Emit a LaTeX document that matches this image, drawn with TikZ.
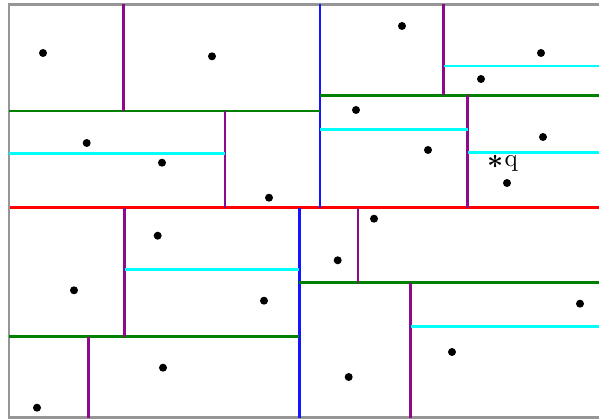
\documentclass[tikz,border=0pt]{standalone}
\usepackage{bm}
\begin{document}
\begin{tikzpicture}[x=1pt,y=-1pt,
  seg/.style={line width=2.6pt},
  splitred/.style={seg,draw={rgb,255:red,255;green,0;blue,0}},
  splitblue/.style={seg,draw={rgb,255:red,20;green,20;blue,255}},
  splitgreen/.style={seg,draw={rgb,255:red,0;green,128;blue,0}},
  splitpurple/.style={seg,draw={rgb,255:red,140;green,10;blue,140}},
  splitcyan/.style={seg,draw={rgb,255:red,0;green,255;blue,255}},
  frame/.style={line width=2.6pt,draw={rgb,255:red,150;green,150;blue,150}},
  pt/.style={circle,fill=black,inner sep=0pt,minimum size=8pt}]
\useasboundingbox (0,0) rectangle (599,419);
% frame
\draw[frame] (610,4.3) -- (9,4.3) -- (9,417.7) -- (610,417.7);
% red root split
\draw[splitred] (10,207.7) -- (599,207.7);
% top half
\draw[splitblue] (320,4.3) -- (320,207.7);
\draw[splitgreen] (9,111) -- (320,111);
\draw[splitpurple] (123.5,4.3) -- (123.5,111);
\draw[splitpurple] (225,111) -- (225,207.7);
\draw[splitcyan] (9,153.3) -- (225,153.3);
\draw[splitgreen] (320,95.5) -- (599,95.5);
\draw[splitpurple] (443.5,4.3) -- (443.5,95.5);
\draw[splitcyan] (443.5,66) -- (599,66);
\draw[splitpurple] (467.5,95.5) -- (467.5,207.7);
\draw[splitcyan] (320,129.7) -- (467.5,129.7);
\draw[splitcyan] (467.5,152.7) -- (599,152.7);
% bottom half
\draw[splitblue] (299.3,207.7) -- (299.3,417.7);
\draw[splitgreen] (9,336.7) -- (299.3,336.7);
\draw[splitpurple] (124.5,207.7) -- (124.5,336.7);
\draw[splitcyan] (124.5,269.3) -- (299.3,269.3);
\draw[splitpurple] (88.5,336.7) -- (88.5,417.7);
\draw[splitgreen] (299.3,282.7) -- (599,282.7);
\draw[splitpurple] (358,207.7) -- (358,282.7);
\draw[splitpurple] (410.5,282.7) -- (410.5,417.7);
\draw[splitcyan] (410.5,326.7) -- (599,326.7);
% points
\foreach \px/\py [count=\i] in {43/53, 212/56.3, 402/26, 541/53, 481/79, 356/110,
  86.7/143, 162/162.7, 428/150, 543/137, 507/183, 269/197.7, 374/218.7,
  157.7/235.7, 337.7/260.3, 74/290.3, 264/300.7, 580/303.7, 452/352,
  163/367.7, 348.7/377, 37/407.7}
  \node[pt] (p\i) at (\px,\py) {};
% query point
\node[inner sep=0pt,scale=2.8] (qs) at (495.5,161.5) {$\bm{\ast}$};
\node[inner sep=0pt,anchor=base west,scale=2.5] (ql) at (504,167) {q};
\end{tikzpicture}
\end{document}
